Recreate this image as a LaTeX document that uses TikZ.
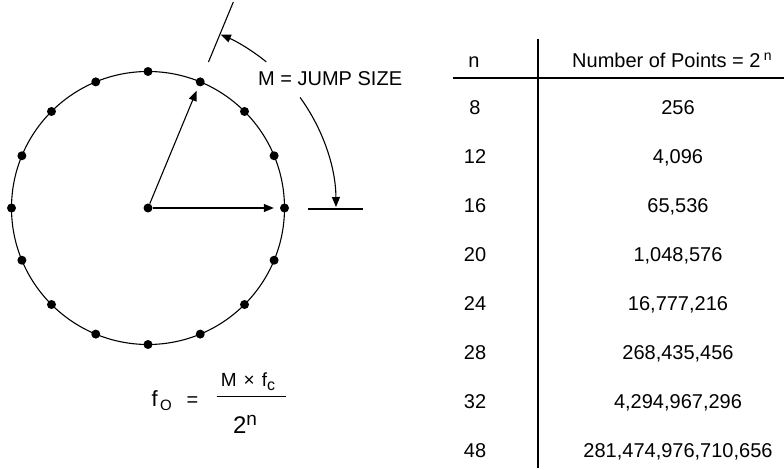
\documentclass[tikz,border=0pt]{standalone}
\usepackage{fontspec}
\setmainfont{Liberation Sans}
\usetikzlibrary{arrows.meta}
\newcommand\myfs[1]{\fontsize{#1}{#1}\selectfont}
\begin{document}
\begin{tikzpicture}[x=1pt,y=1pt,
  dot/.style={circle,fill=black,inner sep=0pt,minimum size=9pt},
  ln/.style={line width=1.1pt},
  arr/.style={line width=1.1pt,-{Triangle[length=10pt,width=8pt]}},
  txt/.style={inner sep=0pt,font=\myfs{20}},
  cell/.style={inner sep=0pt,anchor=base,font=\myfs{20}},
  rule/.style={line width=1.2pt}]
\useasboundingbox (0,0) rectangle (784,470);
% wheel
\node[dot] (c) at (148,262) {};
\draw[ln] (c) circle[radius=136.5pt];
\foreach \i in {0,...,15} \node[dot] (d\i) at ([shift={(\i*22.5:136.5pt)}]c) {};
\draw[arr,shorten >=5pt] (c) -- (d3);
\draw[arr,shorten >=6pt] (c) -- (d0);
% ticks
\coordinate (t1a) at ([shift={(67.5:158pt)}]c);
\coordinate (t1b) at ([shift={(67.5:223pt)}]c);
\draw[ln] (t1a) -- (t1b);
\coordinate (t2a) at ([shift={(160pt,-1pt)}]c);
\coordinate (t2b) at ([shift={(215pt,-1pt)}]c);
\draw[ln] (t2a) -- (t2b);
% jump arcs
\coordinate (a1) at ([shift={(51:188pt)}]c);
\draw[arr] (a1) arc[start angle=51,end angle=67.2,radius=188pt];
\coordinate (a2) at ([shift={(36:188pt)}]c);
\draw[arr] (a2) arc[start angle=36,end angle=0.3,radius=188pt];
\node[txt,anchor=base west] (jump) at (258,384) {M = JUMP SIZE};
% formula
\node[inner sep=0pt,anchor=base west,font=\myfs{22}] (ff) at (151.5,63.3) {f};
\node[inner sep=0pt,anchor=base west,font=\myfs{15}] (fo) at (160,59.5) {O};
\node[inner sep=0pt,font=\myfs{20}] (eq) at (192.5,68) {=};
\coordinate (bl) at (216.5,73.5);
\coordinate (br) at (285.5,73.5);
\draw[line width=1pt] (bl) -- (br);
\node[inner sep=0pt,anchor=base,font=\myfs{19}] (num) at (248,83) {M\hspace{7pt}×\hspace{7pt}f\raisebox{-4pt}{\myfs{16}c}};
\node[inner sep=0pt,anchor=base,font=\myfs{24}] (den) at (245,36) {2\raisebox{8pt}{\myfs{19}n}};
% table
\coordinate (vt) at (538,431);
\coordinate (vb) at (538,2);
\draw[rule] (vt) -- (vb);
\coordinate (hl) at (453,392);
\coordinate (hr) at (784,392);
\draw[rule] (hl) -- (hr);
\node[cell] (hn) at (474,402) {n};
\node[txt,anchor=base west] (hp) at (572,402) {Number of Points = 2\,\raisebox{7pt}{\myfs{14}n}};
\foreach \n/\v/\y in {8/256/355.3, 12/{4,096}/306.3, 16/{65,536}/257.3, 20/{1,048,576}/208.3, 24/{16,777,216}/159.3, 28/{268,435,456}/110.3, 32/{4,294,967,296}/61.3, 48/{281,474,976,710,656}/12.3}{
  \node[cell] (n\n) at (475,\y) {\n};
  \node[cell] (v\n) at (678,\y) {\v};
}
\end{tikzpicture}
\end{document}
